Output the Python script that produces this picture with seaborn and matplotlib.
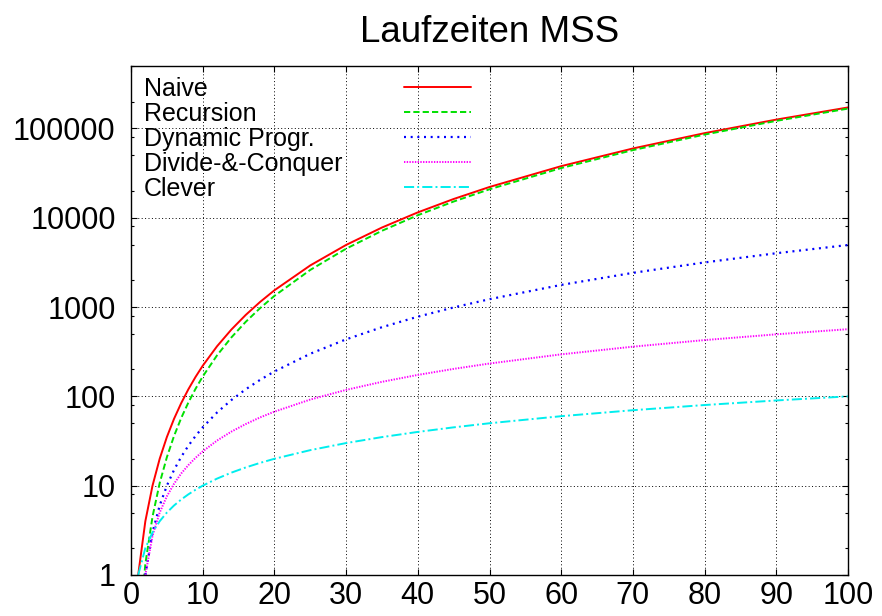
import numpy as np
import pandas as pd
import matplotlib
matplotlib.use('Agg')
import matplotlib.pyplot as plt
import matplotlib.ticker as mticker
import seaborn as sns

# Problem size n (x axis) and running times
N = [1, 2, 3, 4, 5, 6, 7, 8, 9, 10, 12, 14, 16, 18, 20, 25, 30, 35, 40, 45,
     50, 60, 70, 80, 90, 100]
NAIVE = [1, 4, 10, 20, 35, 56, 84, 120, 165, 220, 364, 560, 816, 1140, 1540,
         2925, 4960, 7770, 11480, 16215, 22100, 37820, 59640, 88560, 125580,
         171700]
RECURSION = [0.17, 1.33, 4.5, 10.7, 20.8, 36, 57.2, 85.3, 121.5, 166.7, 288,
             457, 683, 972, 1333, 2604, 4500, 7146, 10667, 15188, 20833,
             36000, 57167, 85333, 121500, 166667]
DYNPROG = [np.nan, 1, 3, 6, 10, 15, 21, 28, 36, 45, 66, 91, 120, 153, 190, 300,
           435, 595, 780, 990, 1225, 1770, 2415, 3160, 4005, 4950]
DIVCONQ = [np.nan, 1, 2.75, 5, 7.6, 10.5, 13.7, 17, 20.5, 24.2, 32, 40.3, 49,
           58.1, 67.4, 92.1, 118.2, 145.5, 173.9, 203.1, 233.2, 295.4, 360.1,
           426.8, 495.2, 565.4]
CLEVER = [1, 2, 3, 4, 5, 6, 7, 8, 9, 10, 12, 14, 16, 18, 20, 25, 30, 35, 40,
          45, 50, 60, 70, 80, 90, 100]

LABELS = ['Naive', 'Recursion', 'Dynamic Progr.', 'Divide-&-Conquer', 'Clever']
SERIES = [NAIVE, RECURSION, DYNPROG, DIVCONQ, CLEVER]
COLORS = ['#ff0000', '#00e000', '#0000ff', '#ff00ff', '#00eeee']
WIDTHS = [1.4, 1.4, 1.6, 1.4, 1.4]
STYLES = ['-', (0, (3.2, 1.6)), (0, (0.9, 2.1)), (0, (0.7, 0.7)),
          (0, (5.2, 1.6, 1.0, 1.6))]

sns.set_style('ticks')
plt.rcParams['font.family'] = ['Liberation Sans', 'DejaVu Sans']
for key in ['text.color', 'axes.labelcolor', 'xtick.color', 'ytick.color',
            'axes.edgecolor']:
    plt.rcParams[key] = 'black'

fig = plt.figure(figsize=(8.82, 6.16), dpi=100)
ax = fig.add_axes([131 / 882, 1 - 575 / 616, 717 / 882, 509 / 616])

for label, vals, color, ls, lw in zip(LABELS, SERIES, COLORS, STYLES, WIDTHS):
    df = pd.DataFrame({'n': N, 't': vals})
    sns.lineplot(data=df, x='n', y='t', ax=ax, color=color, linestyle=ls,
                 linewidth=lw, label=label)

ax.set_yscale('log')
ax.set_xlim(0, 100)
ax.set_ylim(1, 5e5)
ax.set_xticks(range(0, 101, 10))
ax.yaxis.set_major_locator(mticker.LogLocator(base=10, numticks=10))
ax.yaxis.set_minor_locator(mticker.LogLocator(base=10, subs=[2, 5, 8], numticks=10))
ax.yaxis.set_minor_formatter(mticker.NullFormatter())
ax.yaxis.set_major_formatter(mticker.FuncFormatter(lambda v, p: f'{v:.0f}'))
ax.set_xlabel('')
ax.set_ylabel('')

ax.tick_params(axis='both', which='major', direction='in', length=4.5,
               width=0.8, labelsize=22, top=True, right=True, color='black')
ax.tick_params(axis='both', which='minor', direction='in', length=2.2,
               width=0.8, top=True, right=True, color='black')
ax.tick_params(axis='y', which='major', pad=11)
ax.tick_params(axis='x', which='major', pad=4)
for s in ax.spines.values():
    s.set_visible(True)
    s.set_linewidth(1.0)
    s.set_color('black')

ax.grid(True, which='major', color='black', linestyle=(0, (1, 2.5)),
        linewidth=0.7)

ax.set_title('Laufzeiten MSS', fontsize=26.5, pad=17)

fs = 18
tpad = 2.46
leg = ax.legend(loc='upper left', bbox_to_anchor=(0.018, 0.979), frameon=False,
                fontsize=fs, markerfirst=False, handlelength=2.7,
                handletextpad=tpad, labelspacing=0.04, borderpad=0,
                borderaxespad=0)

# gnuplot-style key: labels flush left, samples aligned on the right
fig.canvas.draw()
renderer = fig.canvas.get_renderer()
cols = leg._legend_handle_box.get_children()
for col in cols:
    items = col.get_children()
    widths = [it.get_children()[0].get_window_extent(renderer).width for it in items]
    wmax = max(widths)
    for it, w in zip(items, widths):
        it.sep = tpad * fs + (wmax - w) * 72 / fig.dpi

fig.savefig('out.png', dpi=100)
